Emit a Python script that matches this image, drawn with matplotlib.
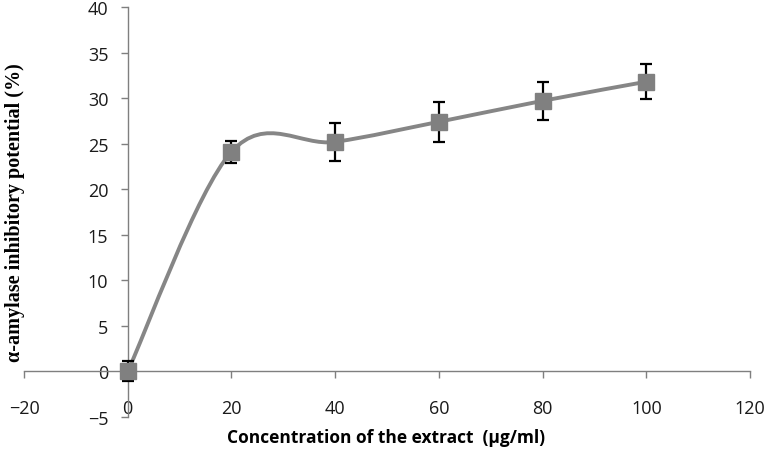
import matplotlib
matplotlib.use('Agg')
import matplotlib.pyplot as plt
from matplotlib.path import Path
from matplotlib.patches import PathPatch

conc = [0, 20, 40, 60, 80, 100]
inhibition = [0.0, 24.1, 25.2, 27.4, 29.7, 31.8]
err = [1.1, 1.2, 2.1, 2.2, 2.1, 1.9]

xticks = [-20, 0, 20, 40, 60, 80, 100, 120]
yticks = [-5, 0, 5, 10, 15, 20, 25, 30, 35, 40]

fig = plt.figure(figsize=(7.69, 4.52), dpi=100)
ax = fig.add_axes([0.0312, 0.0752, 0.9441, 0.9071])

# excel-style smoothed line: cubic bezier segments (catmull-rom control points)
pts = list(zip(conc, inhibition))
verts = [pts[0]]
codes = [Path.MOVETO]
for i in range(len(pts) - 1):
    p0 = pts[i - 1] if i > 0 else pts[i]
    p1 = pts[i]
    p2 = pts[i + 1]
    p3 = pts[i + 2] if i + 2 < len(pts) else pts[i + 1]
    c1 = (p1[0] + (p2[0] - p0[0]) / 6, p1[1] + (p2[1] - p0[1]) / 6)
    c2 = (p2[0] - (p3[0] - p1[0]) / 6, p2[1] - (p3[1] - p1[1]) / 6)
    verts += [c1, c2, p2]
    codes += [Path.CURVE4] * 3
ax.add_patch(PathPatch(Path(verts, codes), facecolor='none', edgecolor='#868686',
                       lw=2.8, zorder=2, capstyle='round'))

ax.errorbar(conc, inhibition, yerr=err, fmt='none', ecolor='black',
            elinewidth=1.6, capsize=4, capthick=1.6, zorder=3)
ax.plot(conc, inhibition, linestyle='none', marker='s', markersize=11,
        color='#808080', zorder=4)

ax.set_xlim(-20, 120)
ax.set_ylim(-5, 40)
ax.set_xticks(xticks)
ax.set_yticks(yticks)
ax.set_xticklabels([str(t).replace('-', '\u2212') for t in xticks])
ax.set_yticklabels([str(t).replace('-', '\u2212') for t in yticks])

ax.spines['left'].set_position(('data', 0))
ax.spines['bottom'].set_position(('data', 0))
ax.spines['top'].set_visible(False)
ax.spines['right'].set_visible(False)
for s in ['left', 'bottom']:
    ax.spines[s].set_color('#7f7f7f')
    ax.spines[s].set_linewidth(1.0)

ax.tick_params(axis='both', direction='out', length=5, width=1, color='#7f7f7f',
               labelsize=13, labelcolor='#1a1a1a')
ax.tick_params(axis='x', pad=15)
ax.tick_params(axis='y', pad=9)
for lab in ax.get_xticklabels() + ax.get_yticklabels():
    lab.set_fontfamily('Open Sans')

fig.text(0.502, 0.031, 'Concentration of the extract  (\u00b5g/ml)', ha='center',
         va='center', fontsize=12.5, fontweight='bold', family='Open Sans')
fig.text(0.019, 0.529, '\u03b1-amylase inhibitory potential (%)', rotation=90,
         ha='center', va='center', fontsize=14.5, fontweight='bold',
         family='Liberation Serif')

fig.savefig('out.png', dpi=100)
